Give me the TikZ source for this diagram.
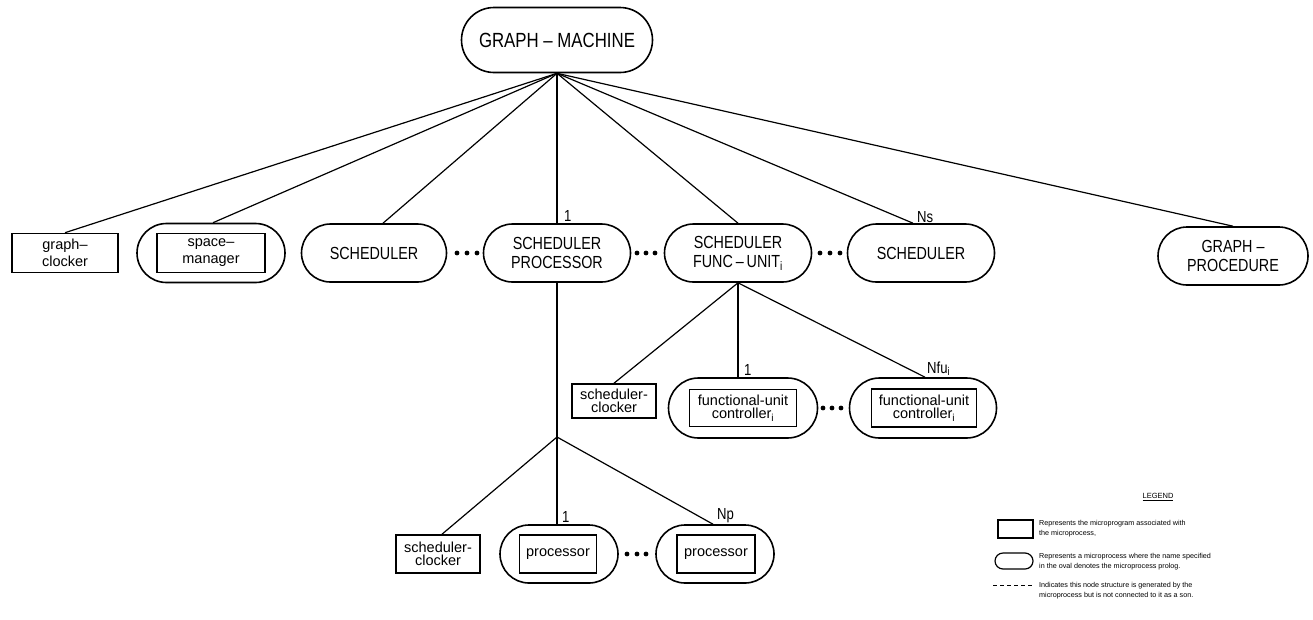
\documentclass[tikz,border=0pt]{standalone}
\usepackage{fontspec}
\setmainfont{Liberation Sans}
\newfontfamily\capsf[FakeStretch=0.82]{Liberation Sans}
\usetikzlibrary{shapes.misc}
\tikzset{
  oval/.style={draw, line width=1.6pt, rounded rectangle, inner sep=0pt,
    minimum height=58pt, minimum width=147pt, align=center,
    font=\capsf\fontsize{17.5}{19}\selectfont},
  box/.style={draw, line width=1.6pt, rectangle, inner sep=0pt, align=center,
    font=\fontsize{14.5}{13.5}\selectfont},
  conn/.style={line width=1.2pt},
  num/.style={font=\capsf\fontsize{16}{16}\selectfont, inner sep=0pt},
  legtext/.style={font=\fontsize{7.2}{10}\selectfont, align=left, inner sep=0pt, anchor=west},
}
\begin{document}
\begin{tikzpicture}[x=1pt,y=-1pt]
\useasboundingbox (0,0) rectangle (1313,619);
\fill[white] (0,0) rectangle (1313,619);

% root
\node[oval, minimum width=191pt, minimum height=65pt, font=\capsf\fontsize{20.5}{22}\selectfont] (gm) at (557,40) {GRAPH – MACHINE};

% first level
\node[box, minimum width=106pt, minimum height=39pt, font=\fontsize{14.5}{17}\selectfont] (gc) at (65,253) {graph–\\clocker};
\node[oval, minimum width=148pt, minimum height=59pt] (sm) at (211,253) {};
\node[box, minimum width=108pt, minimum height=39pt, font=\fontsize{14.5}{17}\selectfont] (smb) at (211,253) {space–\\manager};
\node[oval, minimum width=145pt] (s1) at (374,253) {SCHEDULER};
\node[oval] (sp) at (557,253) {SCHEDULER\\PROCESSOR};
\node[oval] (fu) at (738,253) {SCHEDULER\\FUNC\,–\,UNIT\textsubscript{i}};
\node[oval] (ns) at (921,253) {SCHEDULER};
\node[oval, minimum width=150pt] (gp) at (1233,256) {GRAPH –\\PROCEDURE};

\foreach \x in {457,467,477} \fill (\x,253) circle (2.4);
\foreach \x in {637,646,655} \fill (\x,253) circle (2.4);
\foreach \x in {820,830,840} \fill (\x,253) circle (2.4);

\draw[conn] (gm.south) -- (gc.north);
\draw[conn] (gm.south) -- ([xshift=2pt]sm.north);
\draw[conn] (gm.south) -- ([xshift=9pt]s1.north);
\draw[conn] (gm.south) -- (sp.north);
\draw[conn] (gm.south) -- (fu.north);
\draw[conn] (gm.south) -- ([xshift=-8pt]ns.north);
\draw[conn] (gm.south) -- (gp.north);

\node[num, anchor=south west] (l1) at (564,222) {1};
\node[num, anchor=south west] (lns) at (917,223) {Ns};

% second level (func unit)
\node[box, minimum width=84pt, minimum height=34pt] (sc1) at (614,401) {scheduler-\\clocker};
\node[oval, minimum width=149pt, minimum height=60pt] (f1) at (743,408) {};
\node[box, minimum width=107pt, minimum height=37pt] (f1b) at (743,408) {functional-unit\\controller\textsubscript{i}};
\node[oval, minimum width=147pt, minimum height=60pt] (f2) at (923,408) {};
\node[box, minimum width=105pt, minimum height=38pt] (f2b) at (924,408) {functional-unit\\controller\textsubscript{i}};
\foreach \x in {823,832,841} \fill (\x,408) circle (2.4);

\draw[conn] (fu.south) -- (sc1.north);
\draw[conn] (fu.south) -- (fu.south |- f1.north);
\draw[conn] (fu.south) -- ([xshift=2pt]f2.north);
\node[num, anchor=south west] (lf1) at (744,376) {1};
\node[num, anchor=south west] (lf2) at (927,376) {Nfu\textsubscript{i}};

% third level (processor)
\coordinate (J) at (557,437);
\node[box, minimum width=84pt, minimum height=38pt] (sc2) at (438,554) {scheduler-\\clocker};
\node[oval, minimum width=118pt, minimum height=58pt] (p1) at (559,554) {};
\node[box, minimum width=77pt, minimum height=38pt] (p1b) at (558,554) {processor};
\node[oval, minimum width=118pt, minimum height=58pt] (p2) at (715,554) {};
\node[box, minimum width=78pt, minimum height=38pt] (p2b) at (716,554) {processor};
\foreach \x in {627,637,646} \fill (\x,554) circle (2.4);

\draw[conn] (sp.south) -- (J);
\draw[conn] (J) -- ([xshift=4pt]sc2.north);
\draw[conn] (J) -- (J |- p1.north);
\draw[conn] (J) -- ([xshift=-2pt]p2.north);
\node[num, anchor=south west] (lp1) at (562,523) {1};
\node[num, anchor=south west] (lp2) at (717,523) {Np};

% legend
\node[font=\fontsize{7.5}{8}\selectfont, inner sep=0pt] (lg) at (1158,497) {\underline{LEGEND}};
\node[draw, line width=1.2pt, minimum width=35pt, minimum height=18pt, inner sep=0pt] (lrect) at (1015.5,529) {};
\node[legtext] (lt1) at (1039,529) {Represents the microprogram associated with\\the microprocess,};
\node[draw, line width=1.2pt, rounded rectangle, minimum width=38pt, minimum height=16pt, inner sep=0pt] (loval) at (1014,561) {};
\node[legtext] (lt2) at (1039,562) {Represents a microprocess where the name specified\\in the oval denotes the microprocess prolog.};
\coordinate (da) at (993,585);
\coordinate (db) at (1033,585);
\draw[line width=1pt, dash pattern=on 4pt off 3pt] (da) -- (db);
\node[legtext] (lt3) at (1039,591) {Indicates this node structure is generated by the\\microprocess but is not connected to it as a son.};
\end{tikzpicture}
\end{document}
